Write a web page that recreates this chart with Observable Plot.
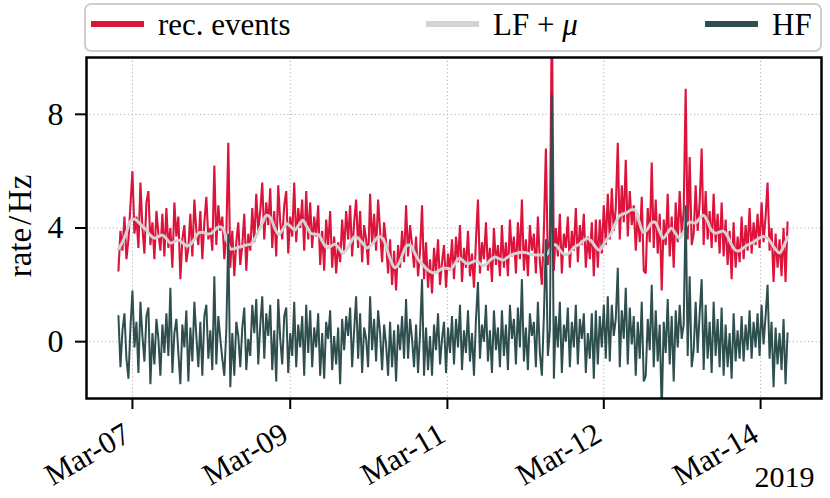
<!DOCTYPE html>
<html>
<head>
<meta charset="utf-8">
<script src="https://cdn.jsdelivr.net/npm/d3@7"></script>
<script src="https://cdn.jsdelivr.net/npm/@observablehq/plot@0.6"></script>
<style>
  body { margin: 0; background: #fff; }
  #wrap { width: 830px; height: 498px; position: relative; font-family: "Liberation Serif", serif; color: #000; }
  #legend { position: relative; width: 830px; height: 55px; }
  #legend .box { position: absolute; left: 84px; top: 3px; width: 734px; height: 45px; border: 2px solid #cfcfcf; border-radius: 7px; background: #fff; }
  #legend .sw { position: absolute; height: 6px; top: 21px; }
  #legend .lab { position: absolute; top: 9px; font-size: 31px; line-height: 31px; white-space: nowrap; }
  #chart svg { display: block; }
</style>
</head>
<body>
<div id="wrap">
  <div id="legend"></div>
  <div id="chart"></div>
</div>
<script>
// ---- data ----
const seriesNames = ["rec. events", "LF + \u03bc", "HF"];
const seriesColors = ["#dc143c", "#d3d3d3", "#2f4f4f"];

const recEvents = [
  2.5, 3.9, 3.2, 4.4, 2.9, 3.6, 4.8, 6.0, 3.8, 4.4, 3.3, 5.6, 4.0, 3.1, 4.9, 5.3, 3.4, 4.2, 2.9, 4.6, 3.8, 3.2, 4.5, 3.0,
  4.7, 3.3, 4.0, 2.6, 4.9, 3.7, 4.4, 2.2, 3.6, 4.1, 2.8, 3.3, 4.5, 3.0, 5.0, 3.9, 3.4, 4.6, 2.9, 4.2, 5.1, 3.6, 4.0, 3.2,
  6.2, 3.4, 4.8, 3.9, 4.4, 2.9, 3.7, 7.0, 2.6, 3.9, 2.3, 3.5, 4.2, 2.7, 3.4, 4.5, 2.5, 3.8, 3.2, 4.7, 3.5, 5.2, 3.9, 4.6,
  5.6, 3.6, 4.9, 4.1, 5.4, 3.3, 4.6, 3.0, 5.5, 4.2, 3.6, 4.8, 5.3, 3.1, 4.4, 3.7, 5.6, 3.5, 4.7, 4.0, 5.0, 3.2, 5.3, 3.6,
  4.9, 3.3, 4.4, 3.7, 4.8, 2.7, 3.9, 2.5, 4.3, 3.4, 4.6, 2.6, 3.7, 2.4, 3.5, 2.8, 4.3, 3.2, 4.6, 3.6, 4.8, 3.0, 4.2, 5.0,
  3.3, 4.6, 2.8, 4.1, 3.6, 2.7, 5.2, 3.4, 4.5, 3.2, 5.0, 3.9, 2.8, 4.2, 3.5, 2.4, 3.6, 2.0, 3.2, 1.8, 3.4, 2.6, 3.9, 2.8,
  4.8, 3.0, 4.1, 3.4, 2.6, 3.7, 2.3, 3.2, 4.8, 2.2, 3.5, 1.9, 2.9, 1.7, 3.3, 2.4, 3.6, 2.0, 2.8, 3.4, 1.9, 3.1, 2.5, 3.6,
  2.2, 3.7, 2.8, 4.1, 2.1, 3.3, 2.6, 3.9, 2.3, 3.1, 1.9, 3.6, 5.0, 2.4, 3.5, 2.9, 4.2, 2.5, 3.3, 2.1, 4.0, 2.7, 3.4, 2.3,
  4.1, 2.6, 3.5, 2.3, 4.3, 3.0, 3.7, 2.4, 4.2, 2.9, 5.0, 2.5, 3.6, 2.3, 4.1, 3.2, 3.8, 2.4, 4.4, 2.8, 2.0, 3.9, 6.8, 2.7,
  3.6, 11.8, 2.5, 4.0, 3.0, 4.5, 2.4, 3.8, 3.3, 4.4, 2.6, 3.9, 3.2, 4.7, 2.8, 4.1, 3.4, 4.5, 2.6, 3.7, 2.9, 4.2, 2.3, 4.3,
  2.6, 4.3, 3.1, 4.8, 3.4, 5.2, 3.6, 5.4, 3.9, 4.7, 7.0, 3.6, 5.5, 4.2, 6.4, 3.7, 5.3, 4.1, 4.8, 3.2, 4.5, 3.5, 5.1, 2.5,
  2.4, 4.7, 3.5, 6.3, 3.3, 5.0, 3.1, 4.5, 1.8, 4.3, 3.4, 5.2, 3.0, 4.4, 2.6, 4.9, 3.5, 5.3, 3.8, 4.6, 8.9, 3.6, 6.5, 3.4,
  3.8, 5.5, 3.9, 4.9, 6.8, 3.4, 5.3, 3.6, 4.6, 3.3, 5.2, 3.5, 4.5, 3.1, 4.9, 3.0, 4.3, 2.7, 3.9, 2.2, 4.2, 2.6, 3.7, 2.8,
  4.4, 2.9, 4.1, 3.2, 4.7, 3.1, 4.2, 3.4, 4.5, 3.3, 4.9, 3.5, 4.4, 5.6, 3.2, 4.0, 2.1, 3.8, 2.6, 3.6, 2.3, 4.0, 2.1, 4.2
];

const hfValues = [
  0.9, -0.9, 0.4, 1.0, -0.6, -1.3, 0.5, 1.8, -0.2, 0.7, -1.1, 1.4, 0.2, -0.7, 0.9, 1.2, -1.5, 0.3, -0.8, 0.8, 0.1, -1.2, 0.6, -0.4,
  1.0, -0.5, 1.9, -1.1, 0.3, 0.8, -0.4, -1.5, 0.6, -0.2, 1.1, -1.4, 0.5, -0.7, 1.4, 0.2, -0.9, 0.7, -1.2, 0.9, 1.3, -0.6, 0.4, -1.0,
  2.3, -0.8, 0.9, 0.1, -0.6, -1.2, 0.4, 3.8, -1.6, 0.3, -1.2, 0.7, 0.2, -0.9, 0.5, 1.2, -1.0, 0.1, -0.5, 1.3, 0.3, 1.5, -0.8, 0.6,
  1.6, -0.6, 1.0, 0.2, 1.3, -1.0, 0.4, -1.4, 1.5, 0.1, -0.8, 0.9, 1.2, -1.1, 0.3, -0.5, 1.4, -0.9, 0.6, -0.2, 0.9, -1.2, 1.3, -0.4,
  1.1, -0.9, 0.5, -0.2, 1.0, -1.2, 0.3, -1.3, 0.7, 0.1, 1.1, -1.0, 0.2, -0.8, 0.5, -1.5, 0.8, -0.3, 0.9, 0.2, 1.2, -0.9, 0.4, 1.6,
  -0.6, 1.0, -1.1, 0.5, 0.1, -0.9, 1.6, -0.3, 0.8, -0.7, 1.1, 0.3, -1.0, 0.6, -0.1, -1.2, 0.7, -0.9, 0.4, -1.4, 0.6, -0.3, 0.9, -0.6,
  1.5, -0.6, 0.8, 0.1, -0.9, 0.6, -1.1, 0.3, 2.2, -1.2, 0.5, -1.0, 0.2, -1.2, 0.6, -0.3, 1.0, -0.8, 0.1, 0.7, -1.1, 0.5, -0.4, 0.9,
  -0.8, 0.8, -0.2, 1.3, -1.0, 0.4, -0.4, 1.1, -0.7, 0.3, -1.2, 0.8, 2.1, -0.6, 0.6, 0.0, 1.3, -0.7, 0.4, -1.1, 1.1, -0.3, 0.5, -0.9,
  1.1, -0.5, 0.6, -1.0, 1.3, 0.1, 0.8, -0.8, 1.2, -0.2, 2.2, -0.7, 0.5, -1.0, 1.0, 0.2, 0.7, -0.9, 1.4, -0.4, -1.2, 0.9, 3.6, -0.5,
  0.4, 8.7, -1.3, 0.9, -0.2, 1.4, -1.1, 0.6, 0.0, 1.2, -0.9, 0.7, -0.2, 1.3, -0.8, 0.8, 0.1, 1.0, -1.1, 0.3, -0.6, 1.0, -1.3, 1.1,
  -0.8, 0.9, -0.2, 1.3, -0.6, 1.6, -0.7, 1.3, 0.2, 0.8, 2.6, -0.9, 1.1, 0.1, 1.9, -0.8, 1.2, -0.1, 0.9, -1.2, 0.7, -0.6, 1.4, -1.4,
  -1.2, 0.8, -0.3, 2.0, -0.9, 1.1, -0.7, 0.6, -2.5, 0.7, -0.4, 1.5, -0.8, 0.9, -1.4, 1.1, -0.2, 1.3, 0.1, 0.6, 4.8, -0.5, 2.3, -0.9,
  -0.3, 1.4, -0.4, 1.0, 2.2, -1.0, 1.3, -0.6, 0.7, -1.1, 1.4, -0.5, 0.8, -0.9, 1.2, -1.2, 0.6, -0.9, 0.3, -1.3, 1.0, -0.7, 0.4, -0.6,
  0.9, -0.7, 0.6, -0.3, 1.1, -0.6, 0.7, -0.2, 1.0, -0.5, 1.3, -0.1, 0.9, 2.0, -0.6, 0.7, -1.6, 0.5, -0.8, 0.3, -1.0, 0.8, -1.5, 0.3
];

const lfPlusMu = [
  3.26, 3.5, 3.85, 4.25, 4.32, 4.2, 4.06, 3.92, 3.74, 3.64, 3.7, 3.75, 3.62, 3.47, 3.52, 3.57, 3.48, 3.37, 3.42, 3.62,
  3.82, 3.85, 3.8, 3.8, 3.92, 4.04, 4.0, 3.6, 3.26, 3.28, 3.32, 3.36, 3.4, 3.43, 3.62, 3.89, 4.2, 4.45, 4.35, 4.0,
  3.78, 3.95, 4.15, 4.05, 3.93, 4.1, 4.27, 4.05, 3.82, 3.78, 3.76, 3.5, 3.3, 3.35, 3.43, 3.3, 3.1, 3.25, 3.5, 3.7,
  3.62, 3.45, 3.3, 3.38, 3.55, 3.7, 3.62, 3.25, 2.85, 2.6, 2.75, 3.1, 3.38, 3.38, 3.1, 2.85, 2.7, 2.55, 2.45, 2.42,
  2.5, 2.58, 2.58, 2.56, 2.75, 2.94, 2.85, 2.74, 2.78, 2.84, 2.78, 2.67, 2.75, 2.9, 2.98, 2.92, 2.87, 2.96, 3.05, 3.1,
  3.13, 3.15, 3.12, 3.07, 3.05, 3.05, 3.05, 3.08, 3.3, 3.42, 3.25, 3.1, 3.07, 3.2, 3.35, 3.42, 3.55, 3.63, 3.55, 3.35,
  3.22, 3.4, 3.62, 3.82, 4.15, 4.42, 4.5, 4.55, 4.64, 4.62, 4.2, 3.85, 3.95, 4.18, 4.2, 3.9, 3.64, 3.82, 3.99, 3.82,
  3.64, 3.85, 4.15, 4.2, 4.18, 4.32, 4.45, 4.25, 3.92, 3.82, 3.86, 3.89, 3.72, 3.42, 3.22, 3.2, 3.3, 3.4, 3.47, 3.55,
  3.65, 3.7, 3.65, 3.45, 3.25, 3.12, 3.35, 3.68
];

// x positions are sample indices; ticks sit at these sample indices
const xTickPos = [7, 86, 164.7, 243, 321.5];
const xTickLabels = ["Mar-07", "Mar-09", "Mar-11", "Mar-12", "Mar-14"];
const yTicks = [0, 4, 8];
const yLabel = "rate\u200a/\u200aHz";
const yearLabel = "2019";

// ---- build tables ----
const nRec = recEvents.length;
const recData = recEvents.map((v, i) => ({i, v}));
const hfData = hfValues.map((v, i) => ({i, v}));
const lfData = lfPlusMu.map((v, k) => ({i: k * (nRec - 1) / (lfPlusMu.length - 1), v}));

// ---- legend ----
const legend = document.getElementById("legend");
legend.innerHTML = `<div class="box"></div>`;
const swLeft = [91, 426, 705];
const labLeft = [158, 493, 772];
seriesNames.forEach((name, j) => {
  const sw = document.createElement("div");
  sw.className = "sw";
  sw.style.left = swLeft[j] + "px";
  sw.style.width = "53px";
  sw.style.background = seriesColors[j];
  legend.appendChild(sw);
  const lab = document.createElement("div");
  lab.className = "lab";
  lab.style.left = labLeft[j] + "px";
  if (j === 1) lab.innerHTML = "LF + <i>\u03bc</i>";
  else lab.textContent = name;
  legend.appendChild(lab);
});

// ---- chart ----
const gridStyle = {stroke: "#b0b0b0", strokeOpacity: 1, strokeWidth: 1, strokeDasharray: "1.2,2.6"};
const chart = Plot.plot({
  width: 830,
  height: 443,
  marginTop: 2,
  marginBottom: 100,
  marginLeft: 86,
  marginRight: 9,
  x: {type: "linear", domain: [-16, 352]},
  y: {type: "linear", domain: [-2, 10]},
  style: {fontFamily: "'Liberation Serif', serif", fontSize: "30px", background: "white", color: "black", overflow: "visible"},
  marks: [
    Plot.gridX(xTickPos, gridStyle),
    Plot.gridY(yTicks, gridStyle),
    Plot.line(recData, {x: "i", y: "v", stroke: seriesColors[0], strokeWidth: 2.1, strokeLinejoin: "miter", strokeMiterlimit: 2, clip: true}),
    Plot.line(lfData, {x: "i", y: "v", stroke: seriesColors[1], strokeWidth: 3, curve: "catmull-rom", clip: true}),
    Plot.line(hfData, {x: "i", y: "v", stroke: seriesColors[2], strokeWidth: 2, strokeLinejoin: "miter", strokeMiterlimit: 2, clip: true}),
    Plot.axisY(yTicks, {tickSize: 11, tickPadding: 12, strokeWidth: 2, fontSize: 32, label: null, tickFormat: d => String(d)}),
    Plot.axisX(xTickPos, {tickSize: 11, strokeWidth: 2, label: null, tickFormat: () => ""}),
    Plot.text(xTickPos, {x: d => d, text: (d, i) => xTickLabels[i], frameAnchor: "bottom", dx: -5, dy: 33, rotate: -30, textAnchor: "end", lineAnchor: "middle", fontSize: 31}),
    Plot.text([yLabel], {text: d => d, frameAnchor: "left", dx: -66, dy: -2, rotate: -90, textAnchor: "middle", lineAnchor: "middle", fontSize: 33}),
    Plot.text([yearLabel], {text: d => d, frameAnchor: "bottom-right", dx: -7, dy: 79, textAnchor: "end", lineAnchor: "middle", fontSize: 30}),
    Plot.frame({stroke: "black", strokeWidth: 2.5})
  ]
});
document.getElementById("chart").appendChild(chart);
</script>
</body>
</html>
